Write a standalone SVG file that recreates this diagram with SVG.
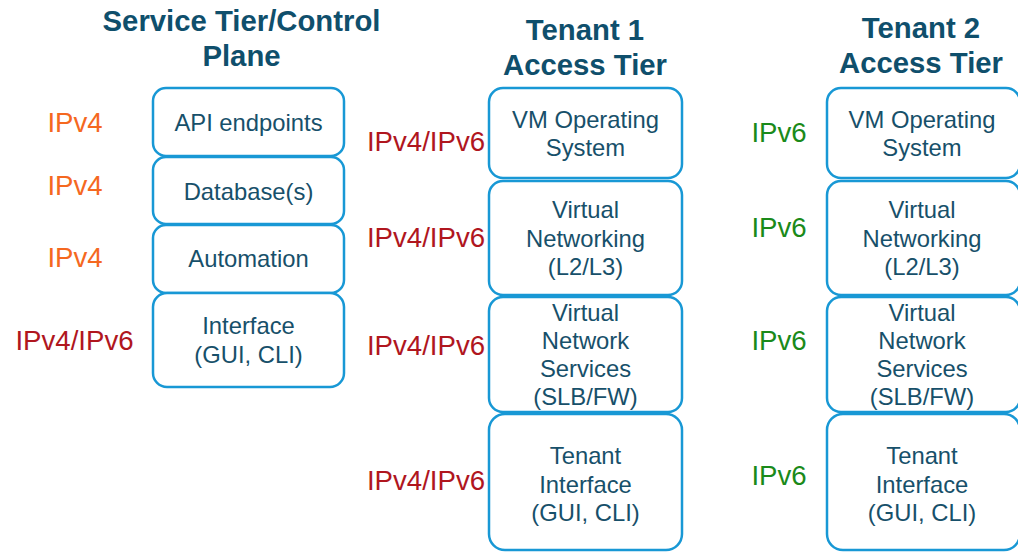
<svg xmlns="http://www.w3.org/2000/svg" width="1018" height="552" viewBox="0 0 1018 552">
<style>
.title{font-family:"Liberation Sans",Arial,sans-serif;font-weight:bold;font-size:29.3px;fill:#0f4f6c;text-anchor:middle}
.box{fill:#ffffff;stroke:#1898d5;stroke-width:2.5}
.bt{font-family:"Liberation Sans",Arial,sans-serif;font-size:23.8px;fill:#17506a;text-anchor:middle}
.ip{font-family:"Liberation Sans",Arial,sans-serif;font-size:27.6px;text-anchor:middle}
.v4{fill:#f5681f}
.dual{fill:#b0161e}
.v6{fill:#1a8a1a}
</style>
<rect width="1018" height="552" fill="#ffffff"/>
<g id="titles">
<text class="title" x="241.5" y="31">Service Tier/Control</text>
<text class="title" x="241.5" y="66">Plane</text>
<text class="title" x="585" y="40">Tenant 1</text>
<text class="title" x="585" y="75">Access Tier</text>
<text class="title" x="921" y="38">Tenant 2</text>
<text class="title" x="921" y="73">Access Tier</text>
</g>
<g id="connectors"></g>
<g id="svc-api"><rect class="box" x="153" y="88" width="191" height="68" rx="13"/><text class="bt" x="248.5" y="131">API endpoints</text></g>
<g id="svc-db"><rect class="box" x="153" y="157" width="191" height="67" rx="13"/><text class="bt" x="248.5" y="200">Database(s)</text></g>
<g id="svc-auto"><rect class="box" x="153" y="225" width="191" height="68" rx="13"/><text class="bt" x="248.5" y="267">Automation</text></g>
<g id="svc-if"><rect class="box" x="153" y="293" width="191" height="94" rx="14"/><text class="bt" x="248.5" y="334">Interface</text><text class="bt" x="248.5" y="363">(GUI, CLI)</text></g>
<g id="t1-vm"><rect class="box" x="489" y="88" width="193" height="90" rx="14"/><text class="bt" x="585.5" y="128">VM Operating</text><text class="bt" x="585.5" y="156">System</text></g>
<g id="t1-vn"><rect class="box" x="489" y="181" width="193" height="114" rx="14"/><text class="bt" x="585.5" y="218">Virtual</text><text class="bt" x="585.5" y="247">Networking</text><text class="bt" x="585.5" y="275">(L2/L3)</text></g>
<g id="t1-vns"><rect class="box" x="489" y="297" width="193" height="115" rx="14"/><text class="bt" x="585.5" y="321">Virtual</text><text class="bt" x="585.5" y="349">Network</text><text class="bt" x="585.5" y="377">Services</text><text class="bt" x="585.5" y="405">(SLB/FW)</text></g>
<g id="t1-ti"><rect class="box" x="489" y="414" width="193" height="136" rx="16"/><text class="bt" x="585.5" y="464">Tenant</text><text class="bt" x="585.5" y="493">Interface</text><text class="bt" x="585.5" y="521">(GUI, CLI)</text></g>
<g id="t2-vm"><rect class="box" x="827" y="88" width="193" height="90" rx="14"/><text class="bt" x="922" y="128">VM Operating</text><text class="bt" x="922" y="156">System</text></g>
<g id="t2-vn"><rect class="box" x="827" y="181" width="193" height="114" rx="14"/><text class="bt" x="922" y="218">Virtual</text><text class="bt" x="922" y="247">Networking</text><text class="bt" x="922" y="275">(L2/L3)</text></g>
<g id="t2-vns"><rect class="box" x="827" y="297" width="193" height="115" rx="14"/><text class="bt" x="922" y="321">Virtual</text><text class="bt" x="922" y="349">Network</text><text class="bt" x="922" y="377">Services</text><text class="bt" x="922" y="405">(SLB/FW)</text></g>
<g id="t2-ti"><rect class="box" x="827" y="414" width="193" height="136" rx="16"/><text class="bt" x="922" y="464">Tenant</text><text class="bt" x="922" y="493">Interface</text><text class="bt" x="922" y="521">(GUI, CLI)</text></g>
<g id="ip-labels">
<text class="ip v4" x="75" y="132">IPv4</text>
<text class="ip v4" x="75" y="195">IPv4</text>
<text class="ip v4" x="75" y="267">IPv4</text>
<text class="ip dual" x="74.5" y="350">IPv4/IPv6</text>
<text class="ip dual" x="426" y="151">IPv4/IPv6</text>
<text class="ip dual" x="426" y="247">IPv4/IPv6</text>
<text class="ip dual" x="426" y="355">IPv4/IPv6</text>
<text class="ip dual" x="426" y="490">IPv4/IPv6</text>
<text class="ip v6" x="779" y="142">IPv6</text>
<text class="ip v6" x="779" y="237">IPv6</text>
<text class="ip v6" x="779" y="350">IPv6</text>
<text class="ip v6" x="779" y="485">IPv6</text>
</g>
</svg>
